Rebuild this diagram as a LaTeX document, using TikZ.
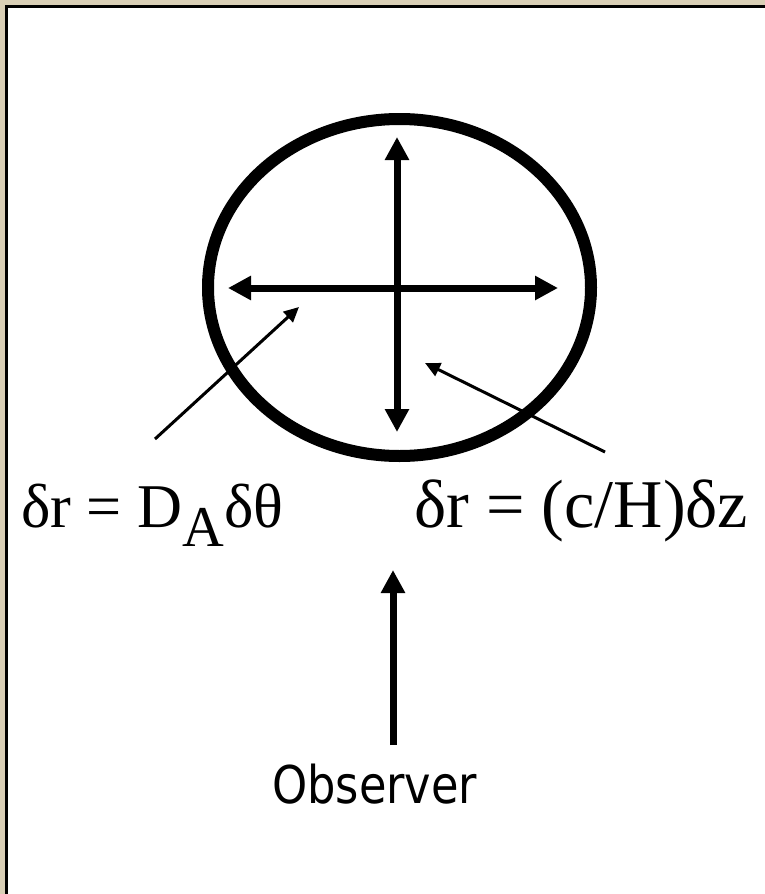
\documentclass[tikz,border=0pt]{standalone}
\usepackage{fontspec}
\usepackage{graphicx}
\setmainfont{Liberation Serif}
\newfontfamily\obsfont[FakeStretch=0.86]{DejaVu Sans}
\usetikzlibrary{arrows.meta,shapes.geometric}
\definecolor{frameclr}{HTML}{D9CFB6}
\tikzset{
  bigarrow/.style={line width=7pt,-{Triangle[length=23pt,width=23pt]}},
  dblarrow/.style={line width=7pt,{Triangle[length=23pt,width=23pt]}-{Triangle[length=23pt,width=23pt]}},
  thinarrow/.style={line width=3pt,-{Triangle[length=15pt,width=14pt]}},
  serif/.style={inner sep=0pt,anchor=base west,font=\fontsize{56}{56}\selectfont},
}
\begin{document}
\begin{tikzpicture}[x=1pt,y=-1pt]
\useasboundingbox (0,0) rectangle (765,894);
\fill[frameclr] (0,0) rectangle (765,894);
\fill[white] (7,7) rectangle (765,894);
\draw[line width=2.5pt] (6.5,894) -- (6.5,6.5) -- (765,6.5);
\node[ellipse,draw,line width=12pt,minimum width=383pt,minimum height=337pt,inner sep=0pt] (ell) at (399.5,287.5) {};
\coordinate (hl) at (228,288);
\coordinate (hr) at (558,288);
\coordinate (vt) at (397,137);
\coordinate (vb) at (397,432);
\draw[dblarrow] (hl) -- (hr);
\draw[dblarrow] (vt) -- (vb);
\coordinate (la) at (155,439);
\coordinate (lt) at (299,307);
\coordinate (ra) at (605,452);
\coordinate (rt) at (425,363);
\draw[thinarrow] (la) -- (lt);
\draw[thinarrow] (ra) -- (rt);
\node[serif] (lefttext) at (21,527) {\resizebox{262pt}{!}{δr = D\raisebox{-0.32em}{\fontsize{52}{52}\selectfont A}δθ}};
\node[serif] (righttext) at (414,527) {\resizebox{334pt}{!}{δr = (c/H)δz}};
\coordinate (ob) at (393,745);
\coordinate (ot) at (393,570);
\draw[bigarrow] (ob) -- (ot);
\node[inner sep=0pt,anchor=base west,font=\obsfont\fontsize{52}{52}\selectfont] (obs) at (272,803) {Observer};
\end{tikzpicture}
\end{document}
